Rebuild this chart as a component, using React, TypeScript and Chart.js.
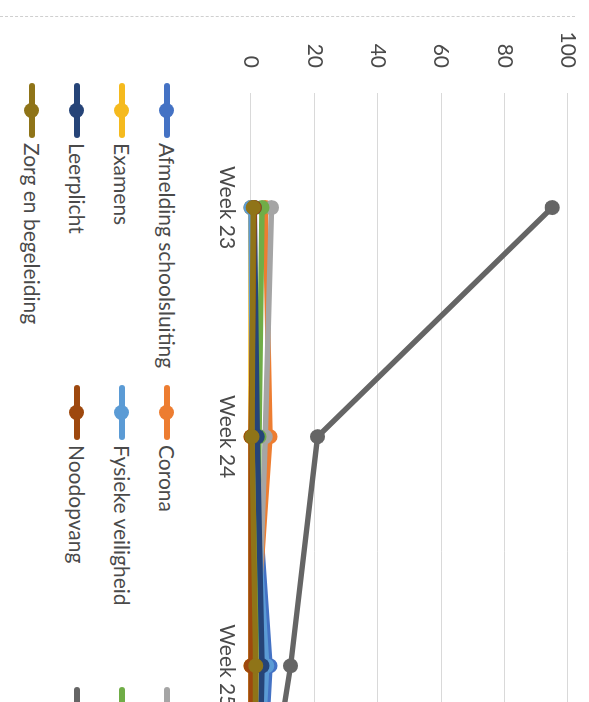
import React, { useEffect, useRef } from "react";
import { Chart, registerables } from "chart.js";

Chart.register(...registerables);

// ---- data ----
const weeks = ["Week 23", "Week 24", "Week 25", "Week 26"];

const afmeldingSchoolsluiting = [0, 1, 6, 2];
const corona = [4.5, 6, 1, 1];
const digitaalOnderwijs = [6.5, 4.5, 2, 1];
const examens = [0, 0, 0, 0];
const fysiekeVeiligheid = [0, 0.5, 5, 1];
const heropening = [3.5, 2.5, 1.5, 1];
const leerplicht = [1, 2, 3.5, 2];
const noodopvang = [1, 0, 0, 0];
const onderwijsOpAfstand = [95, 21, 12.5, 1];
const zorgEnBegeleiding = [0.7, 0.3, 1.5, 1];

const seriesNames = [
  "Afmelding schoolsluiting",
  "Corona",
  "Digitaal onderwijs",
  "Examens",
  "Fysieke veiligheid",
  "Heropening",
  "Leerplicht",
  "Noodopvang",
  "Onderwijs op afstand",
  "Zorg en begeleiding",
];
const seriesValues = [
  afmeldingSchoolsluiting,
  corona,
  digitaalOnderwijs,
  examens,
  fysiekeVeiligheid,
  heropening,
  leerplicht,
  noodopvang,
  onderwijsOpAfstand,
  zorgEnBegeleiding,
];
const seriesColors = [
  "#4472C4",
  "#ED7D31",
  "#A5A5A5",
  "#F5BA1E",
  "#5B9BD5",
  "#70AD47",
  "#264478",
  "#9E480E",
  "#656565",
  "#8F7418",
];

const yMin = 0;
const yMax = 100;
const yStep = 20;

const FONT = "Lato, 'Open Sans', sans-serif";
const TEXT = "#4a4a4a";

// geometry in the (un-rotated) chart frame
const CANVAS_W = 1017;
const CANVAS_H = 400;
const LEFT_AXIS_W = 93;
const TOP_PAD = 21;
const X_AXIS_H = 62;

export default function App() {
  const ref = useRef<HTMLCanvasElement | null>(null);

  useEffect(() => {
    if (!ref.current) return;
    const n = seriesNames.length;
    const chart = new Chart(ref.current, {
      type: "line",
      data: {
        labels: weeks,
        datasets: seriesNames.map((name, i) => ({
          label: name,
          data: seriesValues[i],
          order: n - i,
          borderColor: seriesColors[i],
          backgroundColor: seriesColors[i],
          borderWidth: 5.5,
          pointRadius: 7.5,
          pointBorderWidth: 0,
          pointBackgroundColor: seriesColors[i],
          tension: 0,
          clip: false as any,
        })),
      },
      options: {
        responsive: false,
        animation: false,
        layout: { padding: { top: TOP_PAD, left: 0, right: 0, bottom: 0 } },
        plugins: {
          legend: { display: false },
          tooltip: { enabled: false },
        },
        scales: {
          x: {
            type: "category",
            offset: true,
            grid: { display: false, drawTicks: false },
            border: { display: false },
            ticks: {
              padding: 12,
              color: TEXT,
              font: { family: FONT, size: 21 },
              maxRotation: 0,
            },
            afterFit: (scale: any) => {
              scale.height = X_AXIS_H;
            },
          },
          y: {
            min: yMin,
            max: yMax,
            ticks: {
              stepSize: yStep,
              padding: 0,
              color: TEXT,
              font: { family: FONT, size: 21 },
            },
            grid: {
              color: "#d9d9d9",
              lineWidth: 1,
              drawTicks: true,
              tickLength: 25,
              tickColor: "rgba(0,0,0,0)",
            },
            border: { display: false },
            afterFit: (scale: any) => {
              scale.width = LEFT_AXIS_W;
            },
          },
        },
      },
    });
    return () => chart.destroy();
  }, []);

  const legendItems = seriesNames.map((name, i) => {
    const row = Math.floor(i / 3);
    const col = i % 3;
    const cy = 422 + row * 45;
    const mx = 83 + col * 302;
    return (
      <div key={name}>
        <div
          style={{
            position: "absolute",
            left: mx,
            top: cy - 3,
            width: 55,
            height: 6,
            borderRadius: 3,
            background: seriesColors[i],
          }}
        />
        <div
          style={{
            position: "absolute",
            left: mx + 20,
            top: cy - 7.5,
            width: 15,
            height: 15,
            borderRadius: "50%",
            background: seriesColors[i],
          }}
        />
        <div
          style={{
            position: "absolute",
            left: mx + 60,
            top: cy - 15,
            height: 30,
            lineHeight: "30px",
            whiteSpace: "nowrap",
            fontFamily: FONT,
            fontSize: 21,
            color: TEXT,
          }}
        >
          {name}
        </div>
      </div>
    );
  });

  return (
    <div
      style={{
        position: "fixed",
        left: 0,
        top: 0,
        width: 589,
        height: 702,
        overflow: "hidden",
        background: "#ffffff",
      }}
    >
      <div
        style={{
          position: "absolute",
          left: 0,
          top: 16,
          width: 575,
          height: 0,
          borderTop: "1px dashed #cfcfcf",
        }}
      />
      <div
        style={{
          position: "absolute",
          left: 589,
          top: 0,
          width: CANVAS_W,
          height: 589,
          transform: "rotate(90deg)",
          transformOrigin: "0 0",
        }}
      >
        <canvas
          ref={ref}
          width={CANVAS_W}
          height={CANVAS_H}
          style={{ display: "block", position: "absolute", left: 0, top: 0 }}
        />
        {legendItems}
      </div>
    </div>
  );
}
